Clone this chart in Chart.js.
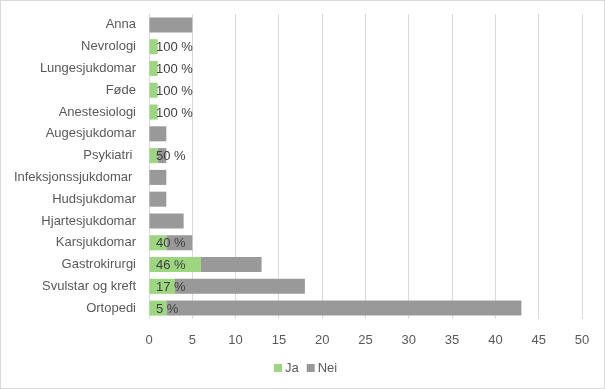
<!DOCTYPE html>
<html>
<head>
<meta charset="utf-8">
<script src="https://cdn.jsdelivr.net/npm/chart.js@4"></script>
<style>
  html, body { margin: 0; padding: 0; background: #fff; }
  #wrap { width: 605px; height: 389px; position: relative; }
</style>
</head>
<body>
<div id="wrap"><canvas id="chart" width="605" height="389"></canvas></div>
<script>
const categories = ['Anna', 'Nevrologi', 'Lungesjukdomar', 'Føde', 'Anestesiologi', 'Augesjukdomar', 'Psykiatri ',
  'Infeksjonssjukdomar ', 'Hudsjukdomar', 'Hjartesjukdomar', 'Karsjukdomar', 'Gastrokirurgi', 'Svulstar og kreft', 'Ortopedi'];
const ja  = [0, 1, 1, 1, 1, 0, 1, 0, 0, 0, 2, 6, 3, 2];
const nei = [5, 0, 0, 0, 0, 2, 1, 2, 2, 4, 3, 7, 15, 41];
const xTicks = [0, 5, 10, 15, 20, 25, 30, 35, 40, 45, 50];

const FONT = "'Liberation Sans', Arial, sans-serif";

// Excel-style "inside base" labels: share of Ja in each row
const pctLabels = {
  id: 'pctLabels',
  afterDatasetsDraw(chart) {
    const { ctx, scales: { x } } = chart;
    const meta = chart.getDatasetMeta(0);
    ctx.save();
    ctx.font = '13px ' + FONT;
    ctx.fillStyle = '#404040';
    ctx.textAlign = 'left';
    ctx.textBaseline = 'middle';
    ja.forEach((v, i) => {
      if (!v) return;
      const pct = Math.round(v / (v + nei[i]) * 100);
      ctx.fillText(pct + ' %', x.getPixelForValue(0) + 7, meta.data[i].y + 1);
    });
    ctx.restore();
  }
};

// border round the whole chart + small square legend at the bottom
const frame = {
  id: 'frame',
  beforeDraw(chart) {
    const { ctx, width, height } = chart;
    ctx.save();
    ctx.fillStyle = '#fff';
    ctx.fillRect(0, 0, width, height);
    ctx.strokeStyle = '#d9d9d9';
    ctx.lineWidth = 1;
    ctx.strokeRect(0.5, 0.5, width - 1, height - 1);
    ctx.restore();
  },
  afterDraw(chart) {
    const { ctx, width } = chart;
    const ds = chart.data.datasets;
    ctx.save();
    ctx.font = '13px ' + FONT;
    ctx.textBaseline = 'middle';
    ctx.textAlign = 'left';
    const gap = 3, between = 8, box = 8;
    const widths = ds.map(d => box + gap + ctx.measureText(d.label).width);
    const total = widths.reduce((a, b) => a + b, 0) + between * (ds.length - 1);
    let x = Math.round(width / 2 - total / 2) + 3;
    const y = 368;
    ds.forEach((d, i) => {
      ctx.fillStyle = d.backgroundColor;
      ctx.fillRect(x, y - 4, box, box);
      ctx.fillStyle = '#595959';
      ctx.fillText(d.label, x + box + gap, y);
      x += widths[i] + between;
    });
    ctx.restore();
  }
};

new Chart(document.getElementById('chart'), {
  type: 'bar',
  data: {
    labels: categories,
    datasets: [
      { label: 'Ja', data: ja, backgroundColor: '#9dd681', barPercentage: 0.69, categoryPercentage: 1 },
      { label: 'Nei', data: nei, backgroundColor: '#999999', barPercentage: 0.69, categoryPercentage: 1 }
    ]
  },
  options: {
    indexAxis: 'y',
    responsive: false,
    animation: false,
    layout: { padding: { top: 14, right: 23, bottom: 38, left: 0 } },
    scales: {
      x: {
        stacked: true,
        min: 0,
        max: 50,
        afterBuildTicks(scale) { scale.ticks = xTicks.map(v => ({ value: v })); },
        afterFit(scale) { scale.height = 32; },
        grid: { color: '#d9d9d9', drawTicks: false },
        border: { display: false },
        ticks: { color: '#595959', font: { size: 13, family: FONT }, padding: 14 }
      },
      y: {
        stacked: true,
        afterFit(scale) {
          scale.width = 149;
          scale.paddingTop = 0;
          scale.paddingBottom = 0;
        },
        grid: { display: false, drawTicks: false },
        border: { display: false },
        ticks: { color: '#595959', font: { size: 13, family: FONT }, padding: 13 }
      }
    },
    plugins: {
      legend: { display: false },
      tooltip: { enabled: false }
    }
  },
  plugins: [frame, pctLabels]
});
</script>
</body>
</html>
